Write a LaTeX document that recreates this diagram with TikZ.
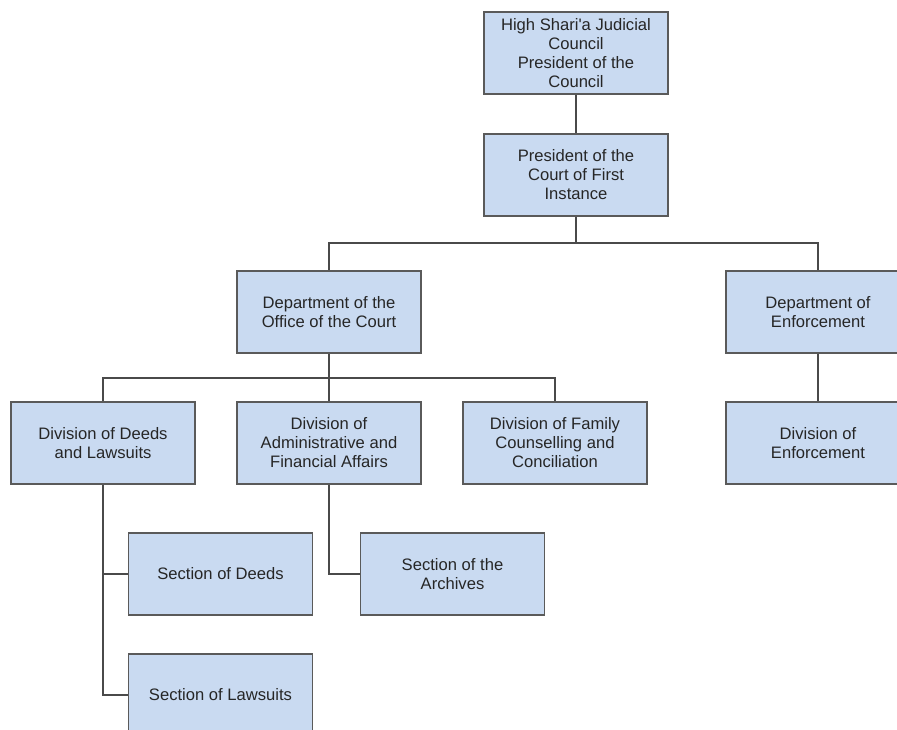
\documentclass[tikz,border=0pt]{standalone}
\usepackage{fontspec}
\setmainfont{Liberation Sans}
\definecolor{boxfill}{HTML}{C9DAF1}
\definecolor{boxline}{HTML}{5A5A5A}
\definecolor{linkline}{HTML}{4A4A4A}
\definecolor{labeltext}{HTML}{262626}
\begin{document}
\begin{tikzpicture}[x=1pt,y=-1pt,
  unit/.style={draw=boxline, fill=boxfill, line width=1.1pt,
    minimum width=184pt, minimum height=82pt, inner sep=0pt,
    align=center, text=labeltext,
    font=\fontsize{16.6}{19}\selectfont},
  link/.style={draw=linkline, line width=1.2pt}]
\useasboundingbox (0,0) rectangle (897,729);
\clip (0,0) rectangle (897,729);

% units of the court
\node[unit] (council) at (576,53) {High Shari\textquotesingle a Judicial\\Council\\President of the\\Council};
\node[unit] (court) at (576,175) {President of the\\Court of First\\Instance};
\node[unit] (office) at (329,312) {Department of the\\Office of the Court};
\node[unit] (enfdept) at (818,312) {Department of\\Enforcement};
\node[unit] (deeds) at (103,443) {Division of Deeds\\and Lawsuits};
\node[unit] (admin) at (329,443) {Division of\\Administrative and\\Financial Affairs};
\node[unit] (family) at (555,443) {Division of Family\\Counselling and\\Conciliation};
\node[unit] (enfdiv) at (818,443) {Division of\\Enforcement};
\node[unit] (secdeeds) at (220.5,574) {Section of Deeds};
\node[unit] (archives) at (452.5,574) {Section of the\\Archives};
\node[unit] (lawsuits) at (220.5,695) {Section of Lawsuits};

% junction points of the branch lines
\coordinate (j1) at (576,243);
\coordinate (j2) at (329,378);

% reporting lines
\draw[link] (council) -- (court);
\draw[link] (court) -- (j1);
\draw[link] (j1) -| (office.north);
\draw[link] (j1) -| (enfdept.north);
\draw[link] (office) -- (j2);
\draw[link] (j2) -| (deeds.north);
\draw[link] (j2) -- (admin.north);
\draw[link] (j2) -| (family.north);
\draw[link] (enfdept) -- (enfdiv);
\draw[link] (deeds.south) |- (secdeeds.west);
\draw[link] (deeds.south) |- (lawsuits.west);
\draw[link] (admin.south) |- (archives.west);
\end{tikzpicture}
\end{document}
